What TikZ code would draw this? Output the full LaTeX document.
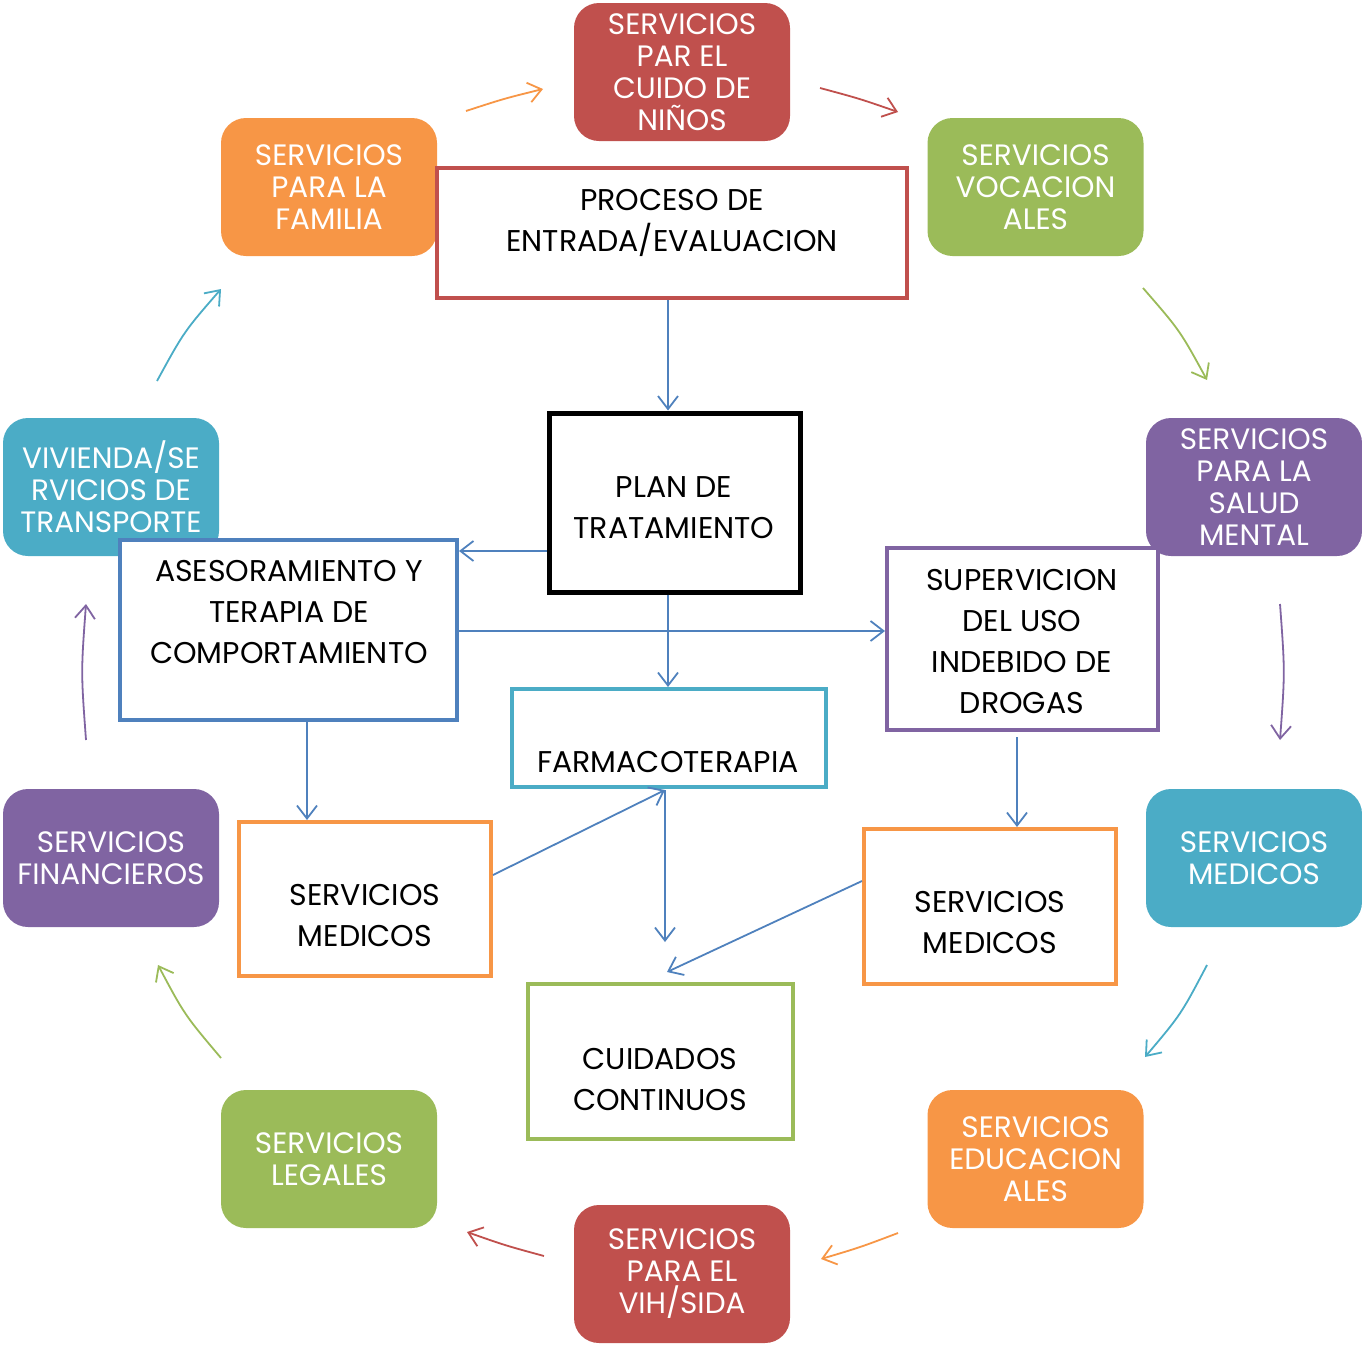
\documentclass[tikz,border=0pt]{standalone}
\usepackage{fontspec}
\setmainfont{Poppins}
\usetikzlibrary{arrows.meta}
\definecolor{cred}{HTML}{C0504D}
\definecolor{corange}{HTML}{F79646}
\definecolor{cgreen}{HTML}{9BBB59}
\definecolor{cpurple}{HTML}{8064A2}
\definecolor{cteal}{HTML}{4BACC6}
\definecolor{cblue}{HTML}{4F81BD}
\begin{document}
\begin{tikzpicture}[x=1pt,y=-1pt,
  svc/.style={fill=#1, rounded corners=25pt, minimum width=216pt, minimum height=138pt, inner sep=0pt},
  svctext/.style={text=white, align=center, font=\fontsize{29.5}{32}\selectfont, inner sep=0pt},
  wbox/.style={draw=#1, line width=4pt, fill=white, inner sep=0pt},
  wtext/.style={text=black, align=center, font=\fontsize{30}{41}\selectfont, inner sep=0pt},
  link/.style={draw=cblue, line width=1.8pt, -{Straight Barb[length=13pt,width=20pt]}},
  cyc/.style={draw=#1, line width=1.8pt, -{Straight Barb[length=13pt,width=20pt]}}]
\useasboundingbox (0,0) rectangle (1362,1344);

% ring of services
\node[svc=cred]    (ninos)  at (682,72)    {};
\node[svc=corange] (fam)    at (329,187)   {};
\node[svc=cgreen]  (voc)    at (1035.5,187) {};
\node[svc=cpurple] (salud)  at (1254,487)  {};
\node[svc=cteal]   (viv)    at (111,487)   {};
\node[svc=cpurple] (fin)    at (111,858)   {};
\node[svc=cteal]   (medr)   at (1254,858)  {};
\node[svc=cgreen]  (leg)    at (329,1159)  {};
\node[svc=corange] (edu)    at (1035.5,1159) {};
\node[svc=cred]    (vih)    at (682,1274)  {};

\node[svctext] (tninos) at (682,72)   {SERVICIOS\\PAR EL\\CUIDO DE\\NIÑOS};
\node[svctext] (tfam)   at (329,187)  {SERVICIOS\\PARA LA\\FAMILIA};
\node[svctext] (tvoc)   at (1035.5,187) {SERVICIOS\\VOCACION\\ALES};
\node[svctext] (tsalud) at (1254,487) {SERVICIOS\\PARA LA\\SALUD\\MENTAL};
\node[svctext] (tviv)   at (111,487)  {VIVIENDA/SE\\RVICIOS DE\\TRANSPORTE};
\node[svctext] (tfin)   at (111,858)  {SERVICIOS\\FINANCIEROS};
\node[svctext] (tmedr)  at (1254,858) {SERVICIOS\\MEDICOS};
\node[svctext] (tleg)   at (329,1159) {SERVICIOS\\LEGALES};
\node[svctext] (tedu)   at (1035.5,1159) {SERVICIOS\\EDUCACION\\ALES};
\node[svctext] (tvih)   at (682,1274) {SERVICIOS\\PARA EL\\VIH/SIDA};

% treatment boxes
\node[wbox=cred, minimum width=470pt, minimum height=130pt]   (proc) at (672,233)  {};
\node[wbox=black, line width=5pt, minimum width=251pt, minimum height=179pt] (plan) at (674.5,502.5) {};
\node[wbox=cblue, minimum width=337pt, minimum height=180pt]  (ases) at (288.5,630) {};
\node[wbox=cpurple, minimum width=271pt, minimum height=182pt] (sup) at (1022.5,639) {};
\node[wbox=cteal, minimum width=314pt, minimum height=98pt]   (farm) at (669,738)  {};
\node[wbox=corange, minimum width=252pt, minimum height=154pt] (medl) at (365,899)  {};
\node[wbox=corange, minimum width=252pt, minimum height=155pt] (medw) at (990,906.5) {};
\node[wbox=cgreen, minimum width=265pt, minimum height=155pt]  (cuid) at (660.5,1061.5) {};

\node[wtext] (tproc) at (672,223) {PROCESO DE\\ENTRADA/EVALUACION};
\node[wtext] (tplan) at (674,508) {PLAN DE\\TRATAMIENTO};
\node[wtext] (tases) at (289,612) {ASESORAMIENTO Y\\TERAPIA DE\\COMPORTAMIENTO};
\node[wtext] (tsup)  at (1022,642) {SUPERVICION\\DEL USO\\INDEBIDO DE\\DROGAS};
\node[wtext] (tfarm) at (668,762) {FARMACOTERAPIA};
\node[wtext] (tmedl) at (365,916) {SERVICIOS\\MEDICOS};
\node[wtext] (tmedw) at (990,923) {SERVICIOS\\MEDICOS};
\node[wtext] (tcuid) at (660,1079) {CUIDADOS\\CONTINUOS};

% flow between treatment boxes
\coordinate (farmin) at (665,790);
\coordinate (cuidin) at (667,972);
\coordinate (supout) at (1017,737);
\draw[link] (proc.south -| 668,0) -- (plan.north -| 668,0);
\draw[link] (plan.west |- 0,551) -- (ases.east |- 0,551);
\draw[link] (ases.east |- 0,631) -- (sup.west |- 0,631);
\draw[link] (plan.south -| 668,0) -- (farm.north -| 668,0);
\draw[link] (ases.south -| 307,0) -- (medl.north -| 307,0);
\draw[link] (supout) -- (medw.north -| 1017,0);
\draw[link] (medl.east |- 0,875) -- (farmin);
\draw[link] (farmin) -- (665,942);
\draw[link] (medw.west |- 0,881) -- (cuidin);

% arrows around the ring
\coordinate (a1) at (466,111);  \coordinate (b1) at (543,89);
\coordinate (a2) at (820,88);   \coordinate (b2) at (898,112);
\coordinate (a3) at (1143,288); \coordinate (b3) at (1207,380);
\coordinate (a4) at (1280,604); \coordinate (b4) at (1280,740);
\coordinate (a5) at (1207,965); \coordinate (b5) at (1145,1057);
\coordinate (a6) at (898,1233); \coordinate (b6) at (821,1259);
\coordinate (a7) at (544,1256); \coordinate (b7) at (467,1232);
\coordinate (a8) at (221,1058); \coordinate (b8) at (158,965);
\coordinate (a9) at (86,740);   \coordinate (b9) at (86,604);
\coordinate (a10) at (157,381); \coordinate (b10) at (221,289);
\draw[cyc=corange] (a1) .. controls (504.1,98.6) .. (b1);
\draw[cyc=cred]    (a2) .. controls (859.4,98.6) .. (b2);
\draw[cyc=cgreen]  (a3) .. controls (1180,330.6) .. (b3);
\draw[cyc=cpurple] (a4) .. controls (1285,672) .. (b4);
\draw[cyc=cteal]   (a5) .. controls (1181,1014.4) .. (b5);
\draw[cyc=corange] (a6) .. controls (859.9,1247.4) .. (b6);
\draw[cyc=cred]    (a7) .. controls (505.1,1245.4) .. (b7);
\draw[cyc=cgreen]  (a8) .. controls (184.6,1014.9) .. (b8);
\draw[cyc=cpurple] (a9) .. controls (81,672) .. (b9);
\draw[cyc=cteal]   (a10) .. controls (184,331.6) .. (b10);
\end{tikzpicture}
\end{document}
